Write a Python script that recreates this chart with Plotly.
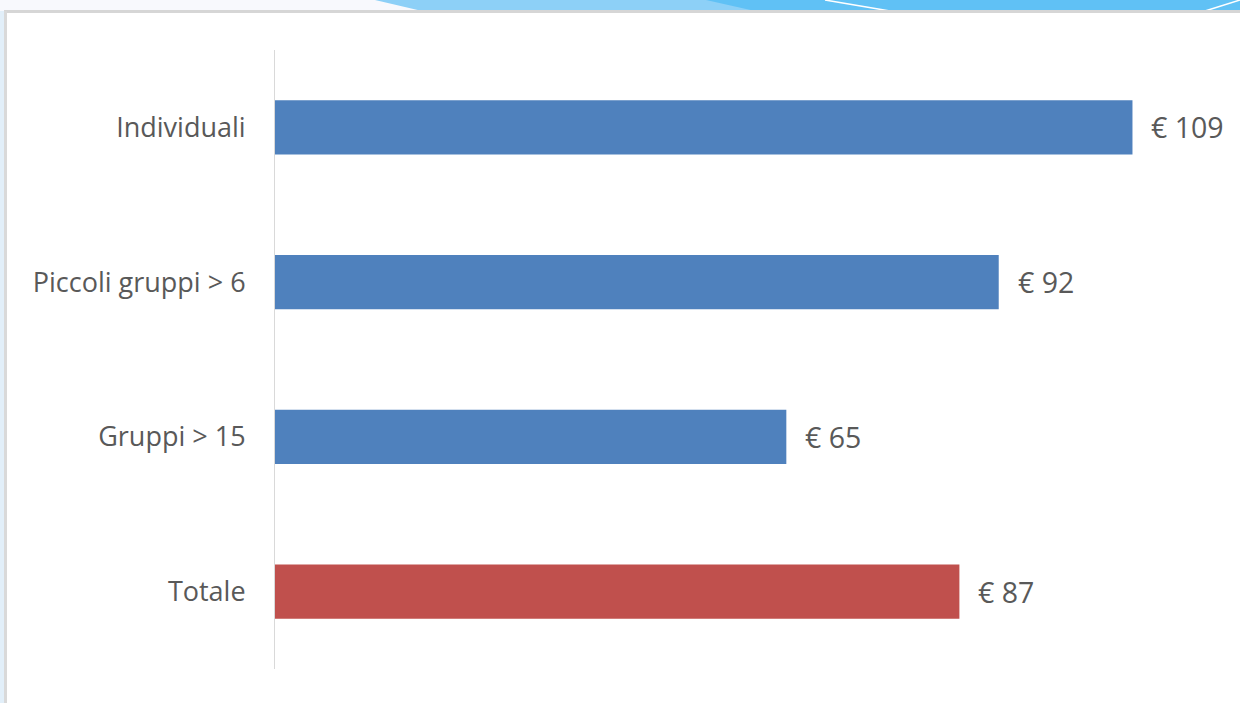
import plotly.graph_objects as go

categories = ["Individuali", "Piccoli gruppi > 6", "Gruppi > 15", "Totale"]
values = [109, 92, 65, 87]
bar_colors = ["#4f81bd", "#4f81bd", "#4f81bd", "#c0504d"]
value_labels = ["€ 109", "€ 92", "€ 65", "€ 87"]

W, H = 1240, 703
ML, MR, MT, MB = 275, 21, 50, 34
PW, PH = W - ML - MR, H - MT - MB


def px(x):
    return (x - ML) / PW


def py(y):
    return (H - MB - y) / PH


fig = go.Figure()
fig.add_trace(go.Bar(
    y=categories, x=values, orientation="h",
    marker=dict(color=bar_colors, line=dict(width=0)),
    width=0.35, hoverinfo="skip",
))

for c, v, t in zip(categories, values, value_labels):
    fig.add_annotation(x=v, y=c, text=t, showarrow=False, xanchor="left",
                       xshift=17, font=dict(family="Open Sans", size=28.5, color="#595959"))

shapes = []
# top decorative band
shapes.append(dict(type="rect", xref="paper", yref="paper", x0=px(0), x1=px(W), y0=py(0), y1=py(11),
                   fillcolor="#f8f9fd", line=dict(width=0), layer="below"))
shapes.append(dict(type="path", xref="paper", yref="paper",
                   path=f"M {px(375)},{py(0)} L {px(W)},{py(0)} L {px(W)},{py(11)} L {px(422)},{py(11)} Z",
                   fillcolor="#8dd0f7", line=dict(width=0), layer="below"))
shapes.append(dict(type="path", xref="paper", yref="paper",
                   path=f"M {px(706)},{py(0)} L {px(W)},{py(0)} L {px(W)},{py(11)} L {px(755)},{py(11)} Z",
                   fillcolor="#60c1f5", line=dict(width=0), layer="below"))
shapes.append(dict(type="line", xref="paper", yref="paper", x0=px(825), y0=py(0), x1=px(890), y1=py(11),
                   line=dict(color="#ffffff", width=1.5)))
shapes.append(dict(type="line", xref="paper", yref="paper", x0=px(1240), y0=py(0), x1=px(1205), y1=py(11),
                   line=dict(color="#ffffff", width=1.5)))
# left strip
shapes.append(dict(type="rect", xref="paper", yref="paper", x0=px(0), x1=px(4), y0=py(11), y1=py(H),
                   fillcolor="#e2eff9", line=dict(width=0), layer="below"))
# frame border
shapes.append(dict(type="line", xref="paper", yref="paper", x0=px(4), y0=py(11.5), x1=px(W), y1=py(11.5),
                   line=dict(color="#d6d6d6", width=3)))
shapes.append(dict(type="line", xref="paper", yref="paper", x0=px(5.5), y0=py(11), x1=px(5.5), y1=py(H),
                   line=dict(color="#d9d9d9", width=3)))

fig.update_layout(
    width=W, height=H,
    margin=dict(l=ML, r=MR, t=MT, b=MB),
    paper_bgcolor="#ffffff", plot_bgcolor="#ffffff",
    showlegend=False,
    shapes=shapes,
    xaxis=dict(range=[0, 120], showgrid=False, zeroline=False, showticklabels=False, showline=False),
    yaxis=dict(autorange="reversed", showgrid=False, showline=True, linecolor="#d9d9d9", linewidth=1,
               ticks="", ticklabelstandoff=23,
               tickfont=dict(family="Open Sans", size=27, color="#595959")),
    bargap=0.65,
)

fig.write_html("out.html", config={"displayModeBar": False},
               post_script="document.body.style.margin='0';document.body.style.overflow='hidden';")
